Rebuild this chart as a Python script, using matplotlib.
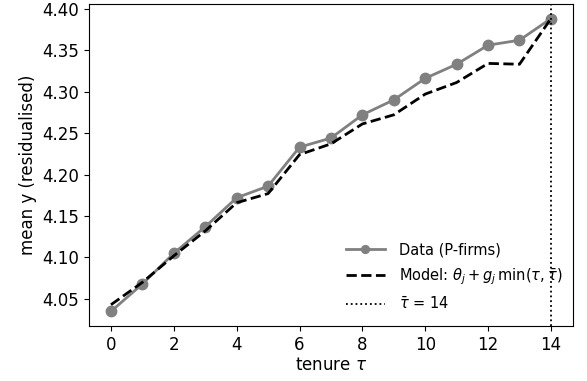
import matplotlib
matplotlib.use("Agg")
import matplotlib.pyplot as plt
import numpy as np

tenure = list(range(15))
data_y = [4.035, 4.068, 4.105, 4.137, 4.172, 4.186, 4.233, 4.244, 4.272, 4.290,
          4.316, 4.333, 4.356, 4.362, 4.388]
model_y = [4.043, 4.070, 4.102, 4.132, 4.166, 4.177, 4.224, 4.237, 4.261, 4.272,
           4.297, 4.311, 4.334, 4.333, 4.388]
tau_bar = 14

fig = plt.figure(figsize=(5.87, 3.81), dpi=100)
ax = fig.add_axes([0.1516, 0.1444, 0.8244, 0.8451])
ax.plot(tenure, data_y, color="gray", marker="o", lw=2, ms=7.5, label="Data (P-firms)")
ax.plot(tenure, model_y, color="black", ls="--", lw=2,
        label=r"Model: $\theta_j + g_j\,\min(\tau, \bar{\tau})$")
ax.axvline(tau_bar, color="black", ls=":", lw=1.3, label=r"$\bar{\tau}$ = 14")
ax.set_xticks(range(0, 15, 2))
ax.tick_params(labelsize=12)
ax.set_xlabel(r"tenure $\tau$", fontsize=12, labelpad=2)
ax.set_ylabel("mean y (residualised)", fontsize=12)
ax.legend(loc="lower right", frameon=False, fontsize=10.5, handlelength=2.7,
          handletextpad=0.95, labelspacing=0.62, markerscale=0.75,
          bbox_to_anchor=(1.005, 0.003))
fig.savefig("out.png", dpi=100)
